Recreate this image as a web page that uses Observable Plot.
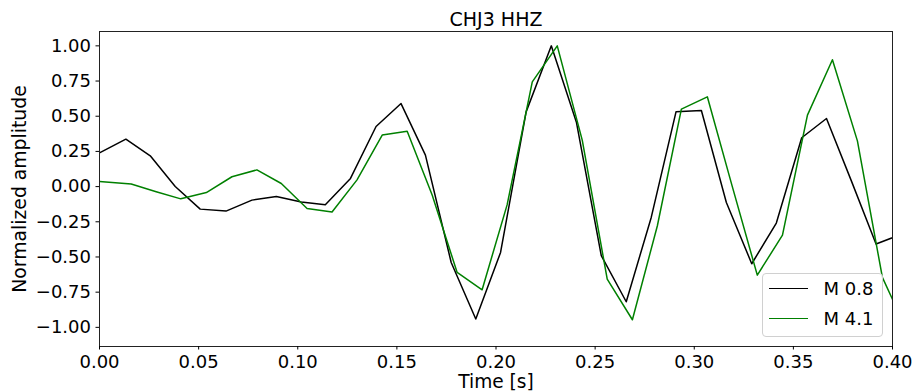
<!DOCTYPE html>
<html>
<head>
<meta charset="utf-8">
<script src="https://cdn.jsdelivr.net/npm/d3@7"></script>
<script src="https://cdn.jsdelivr.net/npm/@observablehq/plot@0.6"></script>
<style>
  html, body { margin: 0; padding: 0; background: white; }
  #wrap { position: relative; width: 913px; height: 391px; overflow: hidden; }
  #legend { position: absolute; left: 761.5px; top: 273px; width: 119px; height: 62px;
    border: 1px solid #d0d0d0; border-radius: 4px; background: rgba(255,255,255,0.85);
    font-family: "DejaVu Sans", sans-serif; font-size: 18px; color: #000; }
  .item { position: absolute; left: 0; height: 0; width: 100%; }
  .sw { position: absolute; left: 6px; width: 39px; height: 0; top: -0.75px; border-top: 1.5px solid; }
  .lab { position: absolute; left: 61px; top: -11px; line-height: 22px; white-space: nowrap; }
</style>
</head>
<body>
<div id="wrap"></div>
<script>
const titleText = "CHJ3 HHZ";
const xLabel = "Time [s]";
const yLabel = "Normalized amplitude";

const blackTime = [0, 0.0133, 0.0256, 0.0382, 0.0508, 0.0638, 0.0769, 0.0892, 0.1018, 0.1139, 0.1266, 0.1395, 0.1521, 0.1644, 0.1774, 0.1898, 0.2023, 0.2152, 0.2279, 0.2406, 0.2531, 0.2657, 0.2783, 0.2908, 0.3036, 0.3162, 0.3290, 0.3414, 0.3542, 0.3667, 0.3793, 0.3917, 0.4043];
const blackAmp = [0.24, 0.337, 0.219, 0.001, -0.160, -0.174, -0.096, -0.070, -0.110, -0.129, 0.058, 0.427, 0.590, 0.224, -0.539, -0.941, -0.468, 0.531, 1.000, 0.455, -0.491, -0.818, -0.219, 0.531, 0.541, -0.113, -0.548, -0.259, 0.347, 0.484, 0.039, -0.408, -0.34];

const greenTime = [0, 0.0160, 0.0286, 0.0410, 0.0539, 0.0668, 0.0794, 0.0917, 0.1047, 0.1173, 0.1299, 0.1426, 0.1552, 0.1678, 0.1804, 0.1930, 0.2056, 0.2183, 0.2309, 0.2435, 0.2561, 0.2688, 0.2814, 0.2935, 0.3066, 0.3192, 0.3318, 0.3445, 0.3571, 0.3697, 0.3823, 0.3949, 0.4075];
const greenAmp = [0.036, 0.018, -0.037, -0.087, -0.042, 0.070, 0.119, 0.022, -0.156, -0.181, 0.048, 0.366, 0.394, -0.06, -0.610, -0.733, -0.13, 0.744, 1.0, 0.33, -0.657, -0.946, -0.278, 0.550, 0.638, 0.0, -0.629, -0.345, 0.508, 0.901, 0.325, -0.645, -1.03];

const seriesNames = ["M 0.8", "M 4.1"];
const seriesColors = ["black", "green"];

const xTicks = [0, 0.05, 0.10, 0.15, 0.20, 0.25, 0.30, 0.35, 0.40];
const yTicks = [-1.00, -0.75, -0.50, -0.25, 0.00, 0.25, 0.50, 0.75, 1.00];

const blackData = blackTime.map((t, i) => ({t, v: blackAmp[i]}));
const greenData = greenTime.map((t, i) => ({t, v: greenAmp[i]}));
const fmt = d3.format(".2f");

const chart = Plot.plot({
  width: 913,
  height: 391,
  marginLeft: 99,
  marginRight: 21,
  marginTop: 31,
  marginBottom: 45,
  style: {fontFamily: "DejaVu Sans, sans-serif", fontSize: "18px", color: "black", background: "white", overflow: "visible"},
  x: {domain: [0, 0.4]},
  y: {domain: [-1.136, 1.102]},
  marks: [
    Plot.line(blackData, {x: "t", y: "v", stroke: seriesColors[0], strokeWidth: 1.5, clip: true}),
    Plot.line(greenData, {x: "t", y: "v", stroke: seriesColors[1], strokeWidth: 1.5, clip: true}),
    Plot.frame({stroke: "#222", strokeWidth: 1}),
    Plot.axisX({anchor: "bottom", ticks: xTicks, tickFormat: fmt, tickSize: 3.5, tickPadding: 5, label: null, fontSize: 18}),
    Plot.axisY({anchor: "left", ticks: yTicks, tickFormat: fmt, tickSize: 3.5, tickPadding: 5, label: null, fontSize: 18}),
    Plot.text([titleText], {frameAnchor: "top", dy: -12, fontSize: 19, lineAnchor: "middle", textAnchor: "middle"}),
    Plot.text([xLabel], {frameAnchor: "bottom", dy: 36, fontSize: 18.6, lineAnchor: "middle", textAnchor: "middle"}),
    Plot.text([yLabel], {frameAnchor: "left", dx: -80, rotate: -90, fontSize: 18.8, lineAnchor: "middle", textAnchor: "middle"})
  ]
});

const wrap = document.getElementById("wrap");
wrap.appendChild(chart);

const legend = document.createElement("div");
legend.id = "legend";
const rowY = [15, 44.5];
seriesNames.forEach((name, i) => {
  const item = document.createElement("div");
  item.className = "item";
  item.style.top = rowY[i] + "px";
  const sw = document.createElement("div");
  sw.className = "sw";
  sw.style.borderTopColor = seriesColors[i];
  const lab = document.createElement("div");
  lab.className = "lab";
  lab.textContent = name;
  item.appendChild(sw);
  item.appendChild(lab);
  legend.appendChild(item);
});
wrap.appendChild(legend);
</script>
</body>
</html>
